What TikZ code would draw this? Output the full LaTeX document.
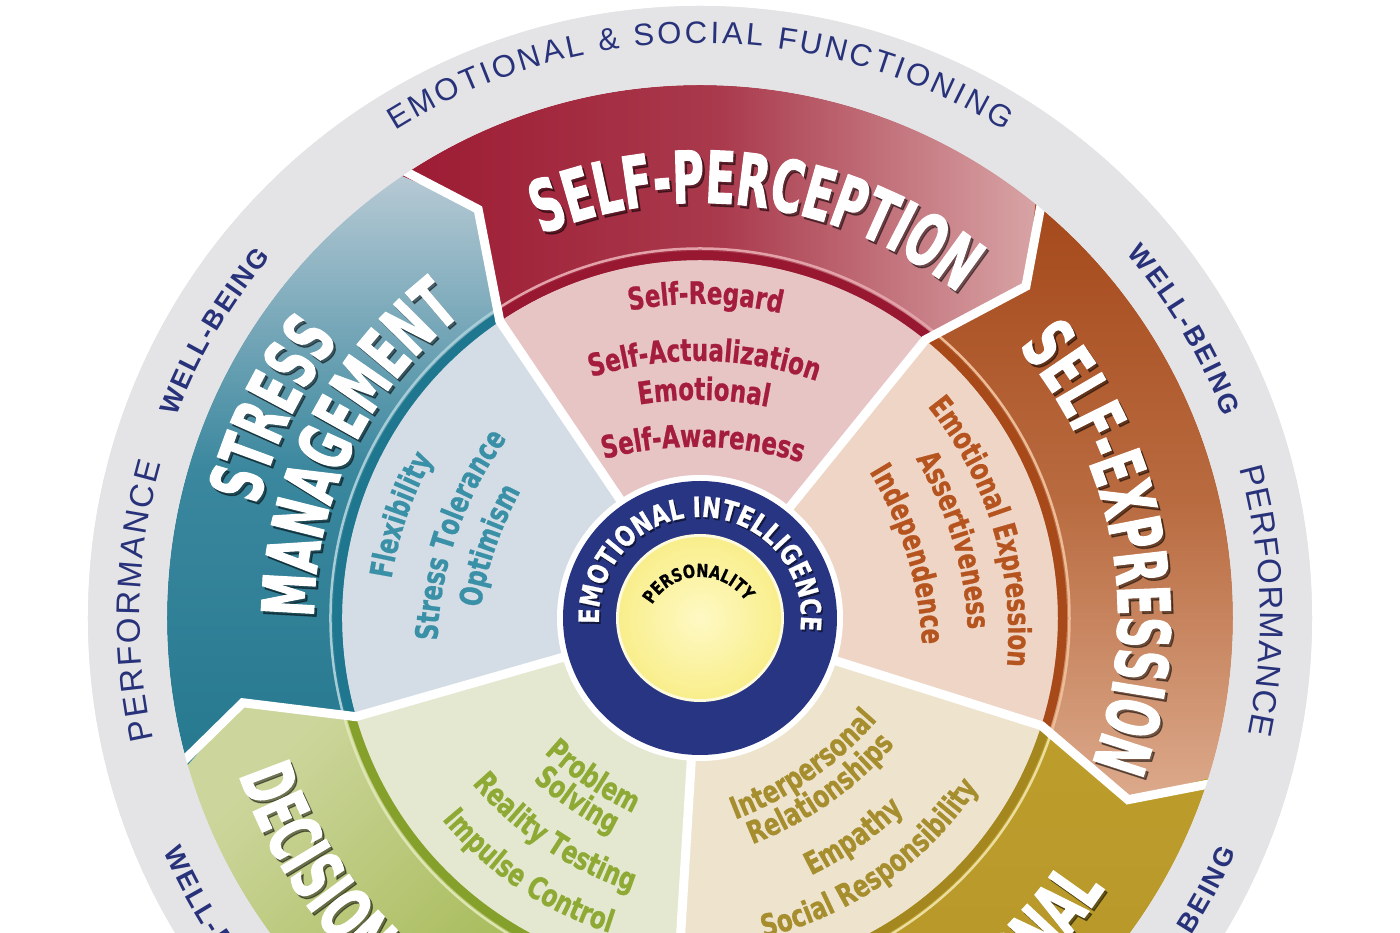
\documentclass[tikz,border=0pt]{standalone}
\usepackage{fontspec}
\usetikzlibrary{decorations.text}
\setmainfont{Liberation Sans}
\newfontfamily\ringfont{Liberation Sans}
\newfontfamily\titlefont{DejaVu Sans}[FakeStretch=0.6,FakeBold=1.6]
\newfontfamily\subfont{DejaVu Sans}[FakeStretch=0.74,FakeBold=0.8]
\newfontfamily\eifont{DejaVu Sans}[FakeStretch=0.8,FakeBold=0.8]
\definecolor{ringgray}{HTML}{E4E4E6}
\definecolor{ringtext}{HTML}{28327A}
\definecolor{navyc}{HTML}{283583}
\definecolor{yelA}{HTML}{FEF9C4}
\definecolor{yelB}{HTML}{F9EE8C}
\definecolor{spA}{HTML}{9C1B33}
\definecolor{spB}{HTML}{D8A4A5}
\definecolor{spW}{HTML}{E8C5C5}
\definecolor{spT}{HTML}{A51D3D}
\definecolor{spD}{HTML}{981832}
\definecolor{spL}{HTML}{E3A2A9}
\definecolor{seA}{HTML}{A5491B}
\definecolor{seM}{HTML}{B96B40}
\definecolor{seB}{HTML}{DCAA8C}
\definecolor{seW}{HTML}{EED5C5}
\definecolor{seT}{HTML}{B5541E}
\definecolor{seD}{HTML}{A8491A}
\definecolor{seL}{HTML}{EDBB95}
\definecolor{inA}{HTML}{BD9E2C}
\definecolor{inB}{HTML}{B39328}
\definecolor{inW}{HTML}{EEE4CE}
\definecolor{inT}{HTML}{A68E2E}
\definecolor{inD}{HTML}{A4881F}
\definecolor{inL}{HTML}{EBDD9E}
\definecolor{dmA}{HTML}{CCD69C}
\definecolor{dmB}{HTML}{94AD37}
\definecolor{dmW}{HTML}{E4E8D0}
\definecolor{dmT}{HTML}{8EAA35}
\definecolor{dmD}{HTML}{86A02C}
\definecolor{dmL}{HTML}{DDE6B0}
\definecolor{smA}{HTML}{B6C9D4}
\definecolor{smM}{HTML}{3A879E}
\definecolor{smB}{HTML}{26798F}
\definecolor{smW}{HTML}{D4DDE6}
\definecolor{smT}{HTML}{3A90A6}
\definecolor{smD}{HTML}{1E778E}
\definecolor{smL}{HTML}{A6CCD8}
\newcommand\FRing{\ringfont\fontsize{31}{33}\selectfont}
\newcommand\FPerf{\ringfont\fontsize{33}{35}\selectfont}
\newcommand\FWell{\ringfont\bfseries\fontsize{27}{29}\selectfont}
\newcommand\FTitle{\titlefont\bfseries\fontsize{72}{74}\selectfont}
\newcommand\FSub{\subfont\bfseries\fontsize{31}{33}\selectfont}
\newcommand\FEI{\eifont\bfseries\fontsize{28}{30}\selectfont}
\newcommand\FPers{\eifont\bfseries\fontsize{18}{20}\selectfont}
% text along an arc round the centre: clockwise (tops outward) / counter-clockwise (tops inward)
\newcommand\CwArc[5]{\path[decorate,decoration={text along path,text align=center,text color=#5,text={|#3|#4}}] ({#2+120}:#1pt) arc[start angle={#2+120},end angle={#2-120},radius=#1pt];}
\newcommand\CcwArc[5]{\path[decorate,decoration={text along path,text align=center,text color=#5,text={|#3|#4}}] ({#2-120}:#1pt) arc[start angle={#2-120},end angle={#2+120},radius=#1pt];}
% text spread over a given arc: radius, from angle, to angle, format, text, colour
\newcommand\FitArc[6]{\path[decorate,decoration={text along path,text align={fit to path},text color=#6,text={|#4|#5}}] (#2:#1pt) arc[start angle=#2,end angle=#3,radius=#1pt];}
\newcommand\CwTitle[3]{\begin{scope}[shift={(2.5pt,-3pt)},opacity=.45]\CwArc{#1}{#2}{\FTitle}{#3}{black}\end{scope}\CwArc{#1}{#2}{\FTitle}{#3}{white}}
\newcommand\CcwTitle[3]{\begin{scope}[shift={(2.5pt,-3pt)},opacity=.45]\CcwArc{#1}{#2}{\FTitle}{#3}{black}\end{scope}\CcwArc{#1}{#2}{\FTitle}{#3}{white}}
% subscale text on flatter arcs (radius 360) through the point (angle : distance)
\newcommand\SubCw[4]{\begin{scope}[shift={({#2+180}:360pt-#1pt)}]\path[decorate,decoration={text along path,text align=center,text color=#4,text={|\FSub|#3}}] ({#2+70}:360pt) arc[start angle={#2+70},end angle={#2-70},radius=360pt];\end{scope}}
\newcommand\SubCcw[4]{\begin{scope}[shift={({#2+180}:360pt-#1pt)}]\path[decorate,decoration={text along path,text align=center,text color=#4,text={|\FSub|#3}}] ({#2-70}:360pt) arc[start angle={#2-70},end angle={#2+70},radius=360pt];\end{scope}}
% geometry
\newcommand\WheelWedge[3]{\fill[#3] (0,0) -- (#1:360pt) arc[start angle=#1,end angle=#2,radius=360pt] -- cycle;}
\newcommand\WheelBand[3]{\shade[#3] (#1:533pt) arc[start angle=#1,end angle=#2,radius=533pt] -- ({#2-5.5}:465pt) -- (#2:358pt) arc[start angle=#2,end angle=#1,radius=358pt] -- ({#1-5.5}:465pt) -- cycle;}
\newcommand\WheelStripes[4]{\draw[#3,line width=9pt] (#1:362.5pt) arc[start angle=#1,end angle=#2,radius=362.5pt];
  \draw[#4,line width=2.5pt] (#1:369.5pt) arc[start angle=#1,end angle=#2,radius=369.5pt];}
\newcommand\WheelSep[1]{\draw[white,line width=9pt,line join=miter] (#1:545pt) -- ({#1-5.5}:465pt) -- (#1:358pt) -- (#1:130pt);}
\begin{document}
\begin{tikzpicture}[x=1pt,y=1pt]
\useasboundingbox (-700,-315) rectangle (700,618);
\fill[white] (-700,-315) rectangle (700,618);
\fill[ringgray] (0,0) circle[radius=612];
% inner wedges
\WheelWedge{124}{51}{spW}
\WheelWedge{51}{-17.5}{seW}
\WheelWedge{-17.5}{-93.5}{inW}
\WheelWedge{-93.5}{-164}{dmW}
\WheelWedge{196}{124}{smW}
% outer bands
\WheelBand{124}{51}{left color=spA,right color=spB,middle color=spA!78!spB}
\WheelBand{51}{-17.5}{top color=seA,bottom color=seB,middle color=seM}
\WheelBand{-17.5}{-93.5}{top color=inA,bottom color=inB}
\WheelBand{-93.5}{-164}{top color=dmA,bottom color=dmB,shading angle=45}
\WheelBand{196}{124}{top color=smA,bottom color=smB,middle color=smM}
\WheelStripes{124}{51}{spD}{spL}
\WheelStripes{51}{-17.5}{seD}{seL}
\WheelStripes{-17.5}{-93.5}{inD}{inL}
\WheelStripes{-93.5}{-164}{dmD}{dmL}
\WheelStripes{196}{124}{smD}{smL}
% white separators
\WheelSep{124}
\WheelSep{51}
\WheelSep{-17.5}
\WheelSep{-93.5}
\WheelSep{-164}
% outer grey ring
\fill[ringgray,even odd rule] (0,0) circle[radius=612] (0,0) circle[radius=533];
% centre
\fill[white] (0,0) circle[radius=143];
\fill[navyc] (0,0) circle[radius=137];
\fill[white!70!yelB] (0,0) circle[radius=84];
\shade[inner color=yelA,outer color=yelB] (0,0) circle[radius=81];
% ring texts
\FitArc{575}{122}{58}{\FRing}{EMOTIONAL {\&} SOCIAL FUNCTIONING}{ringtext}
\FitArc{561}{159}{140}{\FWell}{WELL-BEING}{ringtext}
\FitArc{561}{40.5}{21}{\FWell}{WELL-BEING}{ringtext}
\FitArc{560}{192.5}{164}{\FPerf}{PERFORMANCE}{ringtext}
\FitArc{560}{15.5}{-12}{\FPerf}{PERFORMANCE}{ringtext}
\FitArc{585}{-156.5}{-137.5}{\FWell}{WELL-BEING}{ringtext}
\FitArc{585}{-42.5}{-23.5}{\FWell}{WELL-BEING}{ringtext}
% composite titles
\CwTitle{415}{82}{SELF-PERCEPTION}
\CwTitle{418}{10}{SELF-EXPRESSION}
\CwTitle{456}{154}{STRESS}
\CwTitle{386}{154}{MANAGEMENT}
\CcwTitle{487}{-135}{DECISION MAKING}
\CcwTitle{487}{-57.5}{INTERPERSONAL}
% subscales
\SubCw{314}{89}{Self-Regard}{spT}
\SubCw{257}{89}{Self-Actualization}{spT}
\SubCw{218}{89}{Emotional}{spT}
\SubCw{171}{89}{Self-Awareness}{spT}
\SubCw{306}{17}{Emotional Expression}{seT}
\SubCw{264}{17}{Assertiveness}{seT}
\SubCw{216}{17}{Independence}{seT}
\SubCw{310}{161}{Flexibility}{smT}
\SubCw{257}{161}{Stress Tolerance}{smT}
\SubCw{216}{161}{Optimism}{smT}
\SubCcw{203}{-124}{Problem}{dmT}
\SubCcw{231}{-124}{Solving}{dmT}
\SubCcw{278}{-124}{Reality Testing}{dmT}
\SubCcw{326}{-124}{Impulse Control}{dmT}
\SubCcw{196}{-55}{Interpersonal}{inT}
\SubCcw{226}{-55}{Relationships}{inT}
\SubCcw{279}{-55}{Empathy}{inT}
\SubCcw{323}{-55}{Social Responsibility}{inT}
% centre texts
\begin{scope}[shift={(1.5pt,-2pt)},opacity=.5]\CwArc{101}{88}{\FEI}{EMOTIONAL INTELLIGENCE}{black}\end{scope}
\CwArc{101}{88}{\FEI}{EMOTIONAL INTELLIGENCE}{white}
\begin{scope}[shift={(0pt,-14pt)}]\CwArc{55}{92}{\FPers}{PERSONALITY}{black}\end{scope}
\end{tikzpicture}
\end{document}
